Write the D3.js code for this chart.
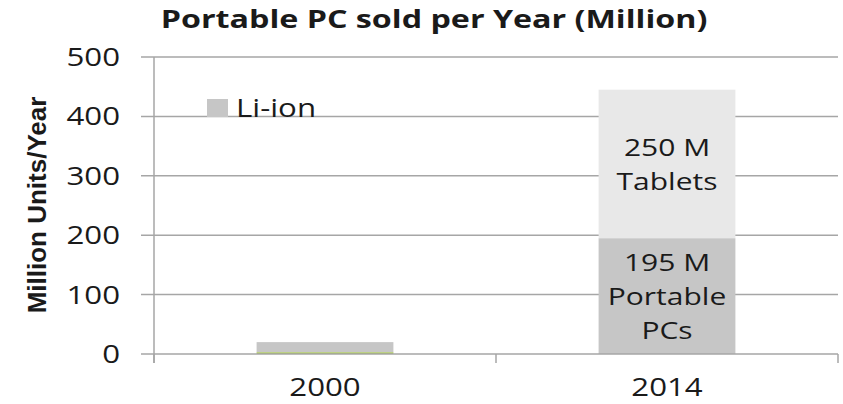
<!DOCTYPE html>
<html>
<head>
<meta charset="utf-8">
<script src="https://cdn.jsdelivr.net/npm/d3@7"></script>
<style>
  body { margin: 0; background: #fff; }
  text { font-family: "Open Sans", sans-serif; fill: #1a1a1a; }
</style>
</head>
<body>
<svg id="chart" width="843" height="404"></svg>
<script>
var years   = ["2000", "2014"];
var nimh    = [3, 0];      // thin green base in 2000
var pcs     = [17, 195];   // Li-ion portable PCs
var tablets = [0, 250];
var yTicks  = [0, 100, 200, 300, 400, 500];
var barText = [["195 M", "Portable", "PCs"], ["250 M", "Tablets"]];

var svg = d3.select("#chart");
var x = d3.scaleBand().domain(years).range([154, 838]).paddingInner(0.6).paddingOuter(0.3);
var y = d3.scaleLinear().domain([0, 500]).range([354, 57]);

// text put at (px,py) and stretched horizontally (the source text is wide)
function label(parent, px, py, str, anchor, size, weight, sx) {
  parent.append("g").attr("transform", "translate(" + px + "," + py + ") scale(" + (sx || 1.25) + ",1)")
    .append("text").attr("text-anchor", anchor)
    .style("font-size", size + "px").style("font-weight", weight || "normal")
    .text(str);
}

// gridlines
svg.append("g").selectAll("line").data(yTicks.slice(1)).join("line")
  .attr("x1", 141).attr("x2", 838)
  .attr("y1", d => y(d)).attr("y2", d => y(d))
  .style("stroke", "#a6a6a6").style("stroke-width", 1.5);

// stacked bars
var rows = years.map(function(yr, i) {
  return {year: yr, nimh: nimh[i], pcs: pcs[i], tablets: tablets[i]};
});
var stack = d3.stack().keys(["nimh", "pcs", "tablets"])(rows);
var colors = {nimh: "#a8c84a", pcs: "#c6c6c6", tablets: "#e8e8e8"};
svg.append("g").selectAll("g").data(stack).join("g")
  .style("fill", d => colors[d.key])
  .selectAll("rect").data(d => d).join("rect")
  .attr("x", d => x(d.data.year))
  .attr("width", x.bandwidth())
  .attr("y", d => y(d[1]))
  .attr("height", d => y(d[0]) - y(d[1]));

// axes lines
svg.append("line").attr("x1", 154).attr("x2", 154).attr("y1", 57).attr("y2", 363)
  .style("stroke", "#a6a6a6").style("stroke-width", 1.5);
svg.append("line").attr("x1", 141).attr("x2", 838).attr("y1", y(0)).attr("y2", y(0))
  .style("stroke", "#a6a6a6").style("stroke-width", 1.5);
var edges = [x.range()[0], (x.range()[0] + x.range()[1]) / 2, x.range()[1]];
svg.append("g").selectAll("line").data(edges).join("line")
  .attr("x1", d => d).attr("x2", d => d).attr("y1", y(0)).attr("y2", 363)
  .style("stroke", "#a6a6a6").style("stroke-width", 1.5);

// tick labels
var gy = svg.append("g");
yTicks.forEach(d => label(gy, 120, y(d) + 9, d, "end", 25));
var gx = svg.append("g");
years.forEach(d => label(gx, x(d) + x.bandwidth() / 2, 396, d, "middle", 25));

// in-bar labels for 2014
var cx = x("2014") + x.bandwidth() / 2;
var segMid = [(y(0) + y(pcs[1])) / 2, (y(pcs[1]) + y(pcs[1] + tablets[1])) / 2];
var gb = svg.append("g");
barText.forEach(function(lines, k) {
  var top = segMid[k] - (lines.length - 1) * 34 / 2;
  lines.forEach((s, i) => label(gb, cx, top + i * 34 + 9, s, "middle", 24));
});

// legend
svg.append("rect").attr("x", 207).attr("y", 99).attr("width", 21).attr("height", 18)
  .style("fill", colors.pcs);
label(svg, 236, 117, "Li-ion", "start", 25);

// title
label(svg, 434, 28, "Portable PC sold per Year (Million)", "middle", 25, "bold", 1.29);

// y label
svg.append("text").attr("transform", "translate(46,205) rotate(-90)")
  .attr("text-anchor", "middle")
  .style("font-family", "'Liberation Sans Narrow', 'Liberation Sans', sans-serif")
  .style("font-size", "26px").style("font-weight", "bold")
  .text("Million Units/Year");
</script>
</body>
</html>
